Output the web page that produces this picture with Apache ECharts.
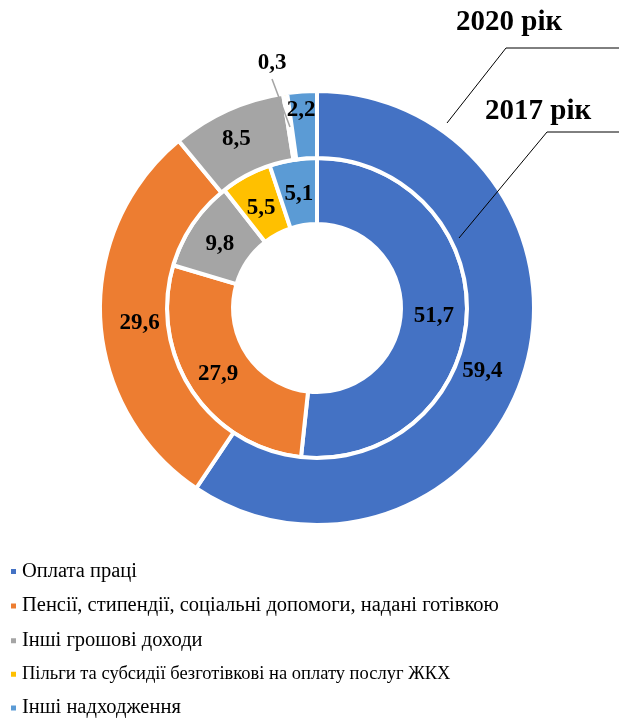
<!DOCTYPE html>
<html>
<head>
<meta charset="utf-8">
<script src="https://cdn.jsdelivr.net/npm/echarts@6/dist/echarts.min.js"></script>
<style>html,body{margin:0;padding:0;background:#fff;}#c{width:619px;height:722px;}</style>
</head>
<body>
<div id="c"></div>
<script>
const categories = [
  'Оплата праці',
  'Пенсії, стипендії, соціальні допомоги, надані готівкою',
  'Інші грошові доходи',
  'Пільги та субсидії безготівкові на оплату послуг ЖКХ',
  'Інші надходження'
];
const colors = ['#4472C4', '#ED7D31', '#A5A5A5', '#FFC000', '#5B9BD5'];
const values2017 = [51.7, 27.9, 9.8, 5.5, 5.1];
const values2020 = [59.4, 29.6, 8.5, 0.3, 2.2];
const yearLabels = ['2020 рік', '2017 рік'];

const fmt = v => String(v).replace('.', ',');
const serif = 'Liberation Serif';
const labelStyle = {
  show: true, position: 'inside', color: '#000', fontFamily: serif,
  fontWeight: 'bold', fontSize: 23,
  formatter: p => fmt(p.value)
};
// label nudges (style only)
const offsets2017 = [[-3, 2], [1, 0], [2, 4], [1, 6], [1, 5]];
const offsets2020 = [[-13, 9], [9, 6], [-4, 1], [0, 0], [-3, -12]];

function buildData(vals, offs, outer) {
  return vals.map((v, i) => {
    const d = { name: categories[i], value: v, itemStyle: { color: colors[i] }, label: { offset: offs[i] } };
    if (outer && v < 1) {
      d.label = { position: 'outside' };
    }
    return d;
  });
}

const chart = echarts.init(document.getElementById('c'), null, { renderer: 'canvas' });
chart.setOption({
  animation: false,
  backgroundColor: '#fff',
  legend: {
    orient: 'vertical', left: 9, top: 561, height: 170, width: 600, icon: 'rect', padding: 0,
    itemWidth: 7, itemHeight: 7, itemGap: 13.6,
    data: categories,
    textStyle: { fontFamily: serif, fontSize: 20.5, color: '#000',
      rich: { n: { fontFamily: serif, fontSize: 20.5, color: '#000' }, s: { fontFamily: serif, fontSize: 18.5, color: '#000' } } },
    formatter: n => n === categories[3] ? '{s|' + n + '}' : '{n|' + n + '}'
  },
  graphic: [
    { type: 'text', z: 100, left: 456, top: 8, style: { text: yearLabels[0], font: 'bold 29px "Liberation Serif"', fill: '#000' } },
    { type: 'text', z: 100, left: 485, top: 97, style: { text: yearLabels[1], font: 'bold 29px "Liberation Serif"', fill: '#000' } },
    { type: 'polyline', z: 100, shape: { points: [[447, 123], [506, 48], [619, 48]] }, style: { stroke: '#000', lineWidth: 1, fill: null } },
    { type: 'polyline', z: 100, shape: { points: [[459, 238], [547, 132], [619, 132]] }, style: { stroke: '#000', lineWidth: 1, fill: null } },
    { type: 'line', z: 100, shape: { x1: 290, y1: 127, x2: 272, y2: 79 }, style: { stroke: '#A5A5A5', lineWidth: 1.5 } }
  ],
  series: [
    {
      name: '2017', type: 'pie', center: [317, 308], radius: [84, 150],
      startAngle: 90, clockwise: true, avoidLabelOverlap: false,
      itemStyle: { borderColor: '#fff', borderWidth: 4 },
      label: labelStyle, labelLine: { show: false },
      emphasis: { disabled: true },
      data: buildData(values2017, offsets2017, false)
    },
    {
      name: '2020', type: 'pie', center: [317, 308], radius: [150, 217],
      startAngle: 90, clockwise: true, avoidLabelOverlap: false,
      itemStyle: { borderColor: '#fff', borderWidth: 4 },
      label: labelStyle, labelLine: { show: false },
      emphasis: { disabled: true },
      labelLayout: function (p) {
        if (p.dataIndex === 3) {
          return { x: 272, y: 63, align: 'center', verticalAlign: 'middle' };
        }
        return {};
      },
      data: buildData(values2020, offsets2020, true)
    }
  ]
});
</script>
</body>
</html>
